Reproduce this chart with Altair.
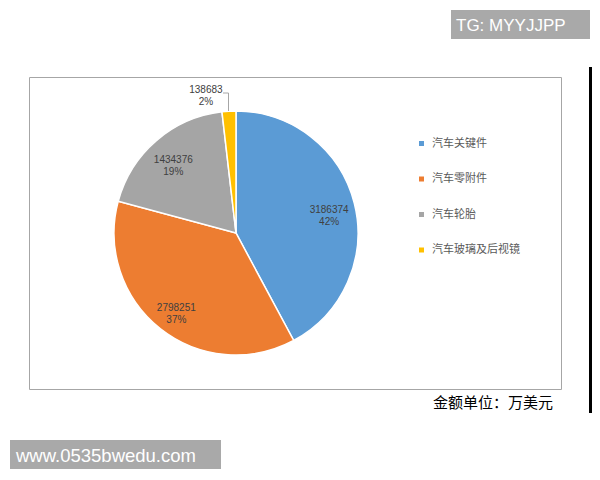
import pandas as pd
import altair as alt

categories = ["汽车关键件", "汽车零附件", "汽车轮胎", "汽车玻璃及后视镜"]
amounts    = [3186374, 2798251, 1434376, 138683]
colors     = ["#5B9BD5", "#ED7D31", "#A5A5A5", "#FFC000"]

total = sum(amounts)
df = pd.DataFrame({"category": categories, "amount": amounts, "idx": range(len(categories))})
df["pct"] = (df["amount"] / total * 100).round().astype(int)
df["label"] = df["amount"].astype(str) + "\n" + df["pct"].astype(str) + "%"
# the small slice gets its label outside the pie
df["inner"] = df["label"].where(df["idx"] < 3, "")
df["outer"] = df["label"].where(df["idx"] == 3, "")

dummy = pd.DataFrame({"d": [0]})

cx, cy, r = 207, 156, 122
label_font = "Liberation Sans Narrow, Liberation Sans, sans-serif"
cjk = "Noto Sans CJK SC"

base = alt.Chart(df).encode(
    theta=alt.Theta("amount:Q", stack=True),
    order=alt.Order("idx:Q"),
    x=alt.value(cx),
    y=alt.value(cy),
)

pie = base.mark_arc(radius=r, stroke="white", strokeWidth=1.5).encode(
    color=alt.Color(
        "category:N",
        scale=alt.Scale(domain=categories, range=colors),
        legend=alt.Legend(
            title=None, orient="none", legendX=387, legendY=61,
            symbolType="square", symbolSize=25, symbolStrokeWidth=0,
            labelFont=cjk, labelFontSize=11, labelColor="#595959",
            rowPadding=23.5, labelOffset=5, padding=0,
        ),
    )
)

text_in = base.mark_text(radius=96, lineBreak="\n", font=label_font, fontSize=10,
                         color="#404040", baseline="middle").encode(text="inner:N")
text_out = base.mark_text(radius=146, thetaOffset=-0.15, lineBreak="\n", font=label_font,
                          fontSize=10, color="#404040", baseline="middle").encode(text="outer:N")

# leader line for the small slice
lead_h = alt.Chart(dummy).mark_rule(color="#a6a6a6", strokeWidth=1).encode(
    x=alt.value(194), x2=alt.value(199.5), y=alt.value(16))
lead_v = alt.Chart(dummy).mark_rule(color="#a6a6a6", strokeWidth=1).encode(
    x=alt.value(199.5), y=alt.value(16), y2=alt.value(34))

tg_box = alt.Chart(dummy).mark_rect(color="#a9a9a9").encode(
    x=alt.value(422), x2=alt.value(561), y=alt.value(-67), y2=alt.value(-38))
tg_txt = alt.Chart(dummy).mark_text(text="TG: MYYJJPP", align="left", baseline="alphabetic",
                                    font="Liberation Sans", fontSize=17, color="white").encode(
    x=alt.value(427), y=alt.value(-46))

www_box = alt.Chart(dummy).mark_rect(color="#a9a9a9").encode(
    x=alt.value(-19), x2=alt.value(192), y=alt.value(363), y2=alt.value(392))
www_txt = alt.Chart(dummy).mark_text(text="www.0535bwedu.com", align="left", baseline="alphabetic",
                                     font="Liberation Sans", fontSize=18.5, color="white").encode(
    x=alt.value(-13), y=alt.value(385))

unit_txt = alt.Chart(dummy).mark_text(text="金额单位：万美元", align="right", baseline="middle",
                                      font=cjk, fontSize=15, color="black").encode(
    x=alt.value(524), y=alt.value(326))

bar = alt.Chart(dummy).mark_rect(color="black").encode(
    x=alt.value(560), x2=alt.value(563), y=alt.value(-10), y2=alt.value(336))

chart = (
    alt.layer(pie, text_in, text_out, lead_h, lead_v, tg_box, tg_txt,
              www_box, www_txt, unit_txt, bar)
    .properties(width=532, height=312, autosize="none",
                padding={"left": 21, "top": 69, "right": 31, "bottom": 81},
                background="white")
    .configure_view(stroke="#a6a6a6", strokeWidth=1)
)

chart.save("out.html", embed_options={"renderer": "svg", "actions": False})
